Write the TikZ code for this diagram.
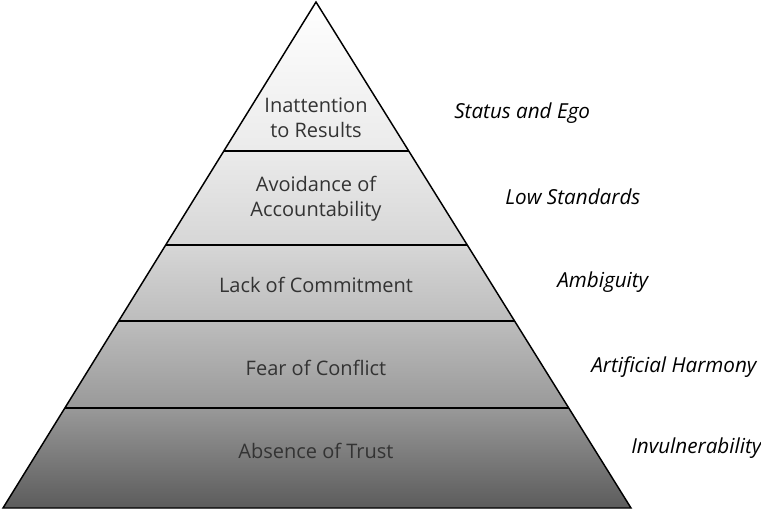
\documentclass[tikz,border=0pt]{standalone}
\usepackage{fontspec}
\setmainfont{Open Sans}
\usetikzlibrary{positioning,calc}

\begin{document}
\begin{tikzpicture}[x=0.75pt, y=-0.75pt,
  font=\fontsize{15}{18.75}\selectfont,
  layer/.style={text=black!80, align=center, inner sep=0pt},
  cause/.style={font=\fontsize{15.5}{18.75}\selectfont\itshape, anchor=west, inner sep=0pt},
  edge/.style={line width=1.1pt, line join=miter}]
  \useasboundingbox (0,0) rectangle (761,512);
  \coordinate (apex) at (316,2);
  \coordinate (cutL5) at (3,508);
  \coordinate (cutR5) at (631,508);
  % layer boundaries
  \foreach \y [count=\i] in {151,245,321,408} {
    \pgfmathsetmacro\f{(\y-2)/506}
    \coordinate (cutL\i) at ($(apex)!\f!(cutL5)$);
    \coordinate (cutR\i) at ($(apex)!\f!(cutR5)$);
  }
  % shading of each layer
  \shade[top color=white, bottom color=black!8] (apex) -- (cutR1) -- (cutL1) -- cycle;
  \foreach \i/\j/\ctop/\cbot in {1/2/8/16, 2/3/16/26, 3/4/26/40, 4/5/40/64}
    \shade[top color=black!\ctop, bottom color=black!\cbot]
      (cutL\i) -- (cutR\i) -- (cutR\j) -- (cutL\j) -- cycle;
  \foreach \i in {1,...,4}
    \draw[edge] (cutL\i) -- (cutR\i);
  \draw[edge] (apex) -- (cutR5) -- (cutL5) -- cycle;

  \node[layer] (results) at (316,118) {Inattention\\to Results};
  \node[layer] (account) at (316,199) {Avoidance of\\Accountability};
  \node[layer] (commit)  at (316,285) {Lack of Commitment};
  \node[layer] (conflict) at (316,368) {Fear of Conflict};
  \node[layer] (trust)   at (316,451) {Absence of Trust};

  \node[cause] (ego)   at (454,113) {Status and Ego};
  \node[cause] (low)   at (505,197) {Low Standards};
  \node[cause] (ambig) at (557,282) {Ambiguity};
  \node[cause] (harm)  at (591,367) {Artificial Harmony};
  \node[cause] (invul) at (631,448) {Invulnerability};
\end{tikzpicture}
\end{document}
